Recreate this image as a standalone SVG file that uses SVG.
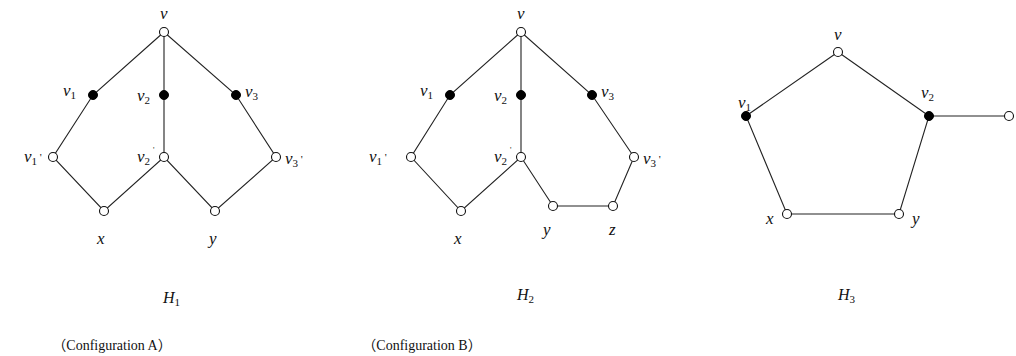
<svg xmlns="http://www.w3.org/2000/svg" width="1016" height="356" viewBox="0 0 1016 356">
<style>
.e{stroke:#222;stroke-width:1.1;fill:none}
.o{fill:#fff;stroke:#111;stroke-width:1.1}
.f{fill:#000;stroke:#000;stroke-width:1}
text{font-family:"Liberation Serif","DejaVu Serif",serif;fill:#111}
.l{font-style:italic;font-size:17px}
.s{font-style:normal;font-size:11px}
.p{font-style:normal;font-size:8px}
.h{font-style:italic;font-size:16px}
.c{font-family:"Liberation Serif","Noto Sans CJK SC",serif;font-size:14px}
</style>
<rect width="1016" height="356" fill="#fff"/>
<g id="connectors">
<path class="e" d="M164,32 L93,95 L53,157 L104,211 L164,157 L215,211 L276,157 L236,95 L164,32 L164,157"/>
<path class="e" d="M521,32 L450,95 L411,157 L461,211 L521,157 L553,206 L613,206 L634,157 L592,95 L521,32 L521,157"/>
<path class="e" d="M838,52 L746,116 L787,214 L899,214 L929,116 L838,52 M929,116 L1009,116"/>
</g>
<g id="H1">
<g id="h1-v"><circle class="o" cx="164" cy="32" r="4.5"/><text class="l" x="160" y="19">v</text></g>
<g id="h1-v1"><circle class="f" cx="93" cy="95" r="4.5"/><text class="l" x="63" y="96">v<tspan class="s" dy="3">1</tspan></text></g>
<g id="h1-v2"><circle class="f" cx="164" cy="95" r="4.5"/><text class="l" x="137" y="101">v<tspan class="s" dy="3">2</tspan></text></g>
<g id="h1-v3"><circle class="f" cx="236" cy="95" r="4.5"/><text class="l" x="245" y="97">v<tspan class="s" dy="3">3</tspan></text></g>
<g id="h1-v1p"><circle class="o" cx="53" cy="157" r="4.5"/><text class="l" x="24" y="162">v<tspan class="s" dy="3">1</tspan><tspan class="s" dy="-4"> '</tspan></text></g>
<g id="h1-v2p"><circle class="o" cx="164" cy="157" r="4.5"/><text class="l" x="137" y="162">v<tspan class="s" dy="3">2</tspan></text><text class="p" x="153" y="153">'</text></g>
<g id="h1-v3p"><circle class="o" cx="276" cy="157" r="4.5"/><text class="l" x="285" y="164">v<tspan class="s" dy="3">3</tspan><tspan class="s" dy="-4"> '</tspan></text></g>
<g id="h1-x"><circle class="o" cx="104" cy="211" r="4.5"/><text class="l" x="97" y="244">x</text></g>
<g id="h1-y"><circle class="o" cx="215" cy="211" r="4.5"/><text class="l" x="209" y="244">y</text></g>
<text class="h" x="163" y="303">H<tspan class="s" dy="3">1</tspan></text>
<text class="c" x="112" y="350" text-anchor="middle">（Configuration A）</text>
</g>
<g id="H2">
<g id="h2-v"><circle class="o" cx="521" cy="32" r="4.5"/><text class="l" x="517" y="19">v</text></g>
<g id="h2-v1"><circle class="f" cx="450" cy="95" r="4.5"/><text class="l" x="420" y="96">v<tspan class="s" dy="3">1</tspan></text></g>
<g id="h2-v2"><circle class="f" cx="521" cy="95" r="4.5"/><text class="l" x="494" y="101">v<tspan class="s" dy="3">2</tspan></text></g>
<g id="h2-v3"><circle class="f" cx="592" cy="95" r="4.5"/><text class="l" x="601" y="97">v<tspan class="s" dy="3">3</tspan></text></g>
<g id="h2-v1p"><circle class="o" cx="411" cy="157" r="4.5"/><text class="l" x="369" y="162">v<tspan class="s" dy="3">1</tspan><tspan class="s" dy="-4"> '</tspan></text></g>
<g id="h2-v2p"><circle class="o" cx="521" cy="157" r="4.5"/><text class="l" x="494" y="162">v<tspan class="s" dy="3">2</tspan></text><text class="p" x="510" y="153">'</text></g>
<g id="h2-v3p"><circle class="o" cx="634" cy="157" r="4.5"/><text class="l" x="643" y="164">v<tspan class="s" dy="3">3</tspan><tspan class="s" dy="-4"> '</tspan></text></g>
<g id="h2-x"><circle class="o" cx="461" cy="211" r="4.5"/><text class="l" x="454" y="244">x</text></g>
<g id="h2-y"><circle class="o" cx="553" cy="206" r="4.5"/><text class="l" x="543" y="235">y</text></g>
<g id="h2-z"><circle class="o" cx="613" cy="206" r="4.5"/><text class="l" x="609" y="235">z</text></g>
<text class="h" x="517" y="300">H<tspan class="s" dy="3">2</tspan></text>
<text class="c" x="422" y="350" text-anchor="middle">（Configuration B）</text>
</g>
<g id="H3">
<g id="h3-v"><circle class="o" cx="838" cy="52" r="4.5"/><text class="l" x="834" y="40">v</text></g>
<g id="h3-v1"><circle class="f" cx="746" cy="116" r="4.5"/><text class="l" x="738" y="108">v<tspan class="s" dy="3">1</tspan></text></g>
<g id="h3-v2"><circle class="f" cx="929" cy="116" r="4.5"/><text class="l" x="921" y="98">v<tspan class="s" dy="3">2</tspan></text></g>
<g id="h3-p"><circle class="o" cx="1009" cy="116" r="4.5"/></g>
<g id="h3-x"><circle class="o" cx="787" cy="214" r="4.5"/><text class="l" x="766" y="224">x</text></g>
<g id="h3-y"><circle class="o" cx="899" cy="214" r="4.5"/><text class="l" x="912" y="224">y</text></g>
<text class="h" x="838" y="300">H<tspan class="s" dy="3">3</tspan></text>
</g>
</svg>
